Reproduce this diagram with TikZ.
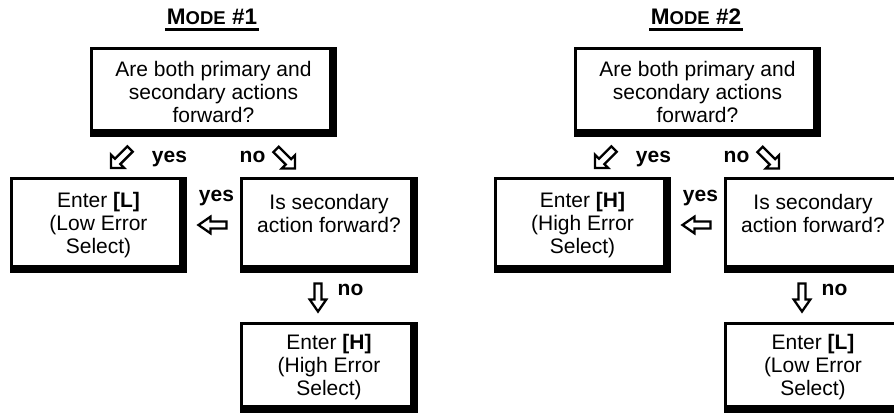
\documentclass[tikz,border=0pt]{standalone}
\usepackage{fontspec}
\setmainfont{Liberation Sans}
\newcommand\bodyfont{\fontsize{21}{23}\selectfont}
\newcommand\heavyedge[1]{%
  \fill ([shift={(1.3pt,1.3pt)}]#1.north east) rectangle ([shift={(-6.7pt,-1.3pt)}]#1.south east);
  \fill ([shift={(-1.3pt,-1.3pt)}]#1.south west) rectangle ([shift={(1.3pt,6.7pt)}]#1.south east);}
\tikzset{
  panel/.style={draw, line width=2.6pt, fill=white, outer sep=0pt, inner sep=0pt, align=center, font=\bodyfont},
  lbl/.style={font=\bodyfont\bfseries, inner sep=0pt, anchor=base},
  titletext/.style={font=\fontsize{22.5}{24}\selectfont\bfseries, inner ysep=0pt, inner xsep=1.5pt, anchor=base},
  underline/.style={line width=2.2pt},
  arrowline/.style={draw, line width=2.3pt, fill=white, line join=miter},
  hollow/.pic={\path[arrowline] (-14,-3.5) -- (2,-3.5) -- (2,-8.3) -- (14,0) -- (2,8.3) -- (2,3.5) -- (-14,3.5) -- cycle;},
  hollowdiag/.pic={\path[arrowline] (-13.5,-3.8) -- (4,-3.8) -- (4,-9.5) -- (13.5,0) -- (4,9.5) -- (4,3.8) -- (-13.5,3.8) -- cycle;}
}
\newcommand\smallcap[1]{{\fontsize{18.5}{20}\selectfont #1}}
\begin{document}
\begin{tikzpicture}[x=1pt,y=-1pt]
\useasboundingbox (0,0) rectangle (894,414);
\clip (0,0) rectangle (894,414);
% Mode 1
\begin{scope}
  \node[titletext] (atitle) at (212,25) {M\smallcap{ODE} \#1};
  \draw[underline] ([yshift=-4.5pt]atitle.base west) -- ([yshift=-4.5pt]atitle.base east);
  \node[panel, minimum width=244.4pt, minimum height=87.4pt] (aq) at (213.5,92) {Are both primary and\\secondary actions\\forward?};
  \heavyedge{aq}
  \node[panel, minimum width=174.4pt, minimum height=93.4pt] (ayes) at (98.5,225) {Enter \textbf{[L]}\\(Low Error\\Select)};
  \heavyedge{ayes}
  \node[panel, minimum width=175.4pt, minimum height=93.4pt] (asec) at (329,225) {Is secondary\\action forward?\\\mbox{}};
  \heavyedge{asec}
  \node[panel, minimum width=175.4pt, minimum height=88.4pt] (ano) at (329,367.5) {Enter \textbf{[H]}\\(High Error\\Select)};
  \heavyedge{ano}
  \pic[rotate=225] at (120.5,158.5) {hollowdiag};
  \node[lbl] (aly) at (169.5,163) {yes};
  \pic[rotate=-45] at (285.5,159) {hollowdiag};
  \node[lbl] (aln) at (252.5,163) {no};
  \node[lbl] (alys) at (216.5,202) {yes};
  \pic[rotate=180] at (212.5,225) {hollow};
  \pic[rotate=-90] at (318,297.5) {hollow};
  \node[lbl] (alns) at (350.5,295) {no};
\end{scope}
% Mode 2
\begin{scope}[xshift=484pt]
  \node[titletext] (btitle) at (212,25) {M\smallcap{ODE} \#2};
  \draw[underline] ([yshift=-4.5pt]btitle.base west) -- ([yshift=-4.5pt]btitle.base east);
  \node[panel, minimum width=244.4pt, minimum height=87.4pt] (bq) at (213.5,92) {Are both primary and\\secondary actions\\forward?};
  \heavyedge{bq}
  \node[panel, minimum width=174.4pt, minimum height=93.4pt] (byes) at (98.5,225) {Enter \textbf{[H]}\\(High Error\\Select)};
  \heavyedge{byes}
  \node[panel, minimum width=175.4pt, minimum height=93.4pt] (bsec) at (329,225) {Is secondary\\action forward?\\\mbox{}};
  \heavyedge{bsec}
  \node[panel, minimum width=175.4pt, minimum height=88.4pt] (bno) at (329,367.5) {Enter \textbf{[L]}\\(Low Error\\Select)};
  \heavyedge{bno}
  \pic[rotate=225] at (120.5,158.5) {hollowdiag};
  \node[lbl] (bly) at (169.5,163) {yes};
  \pic[rotate=-45] at (285.5,159) {hollowdiag};
  \node[lbl] (bln) at (252.5,163) {no};
  \node[lbl] (blys) at (216.5,202) {yes};
  \pic[rotate=180] at (212.5,225) {hollow};
  \pic[rotate=-90] at (318,297.5) {hollow};
  \node[lbl] (blns) at (350.5,295) {no};
\end{scope}
\end{tikzpicture}
\end{document}
